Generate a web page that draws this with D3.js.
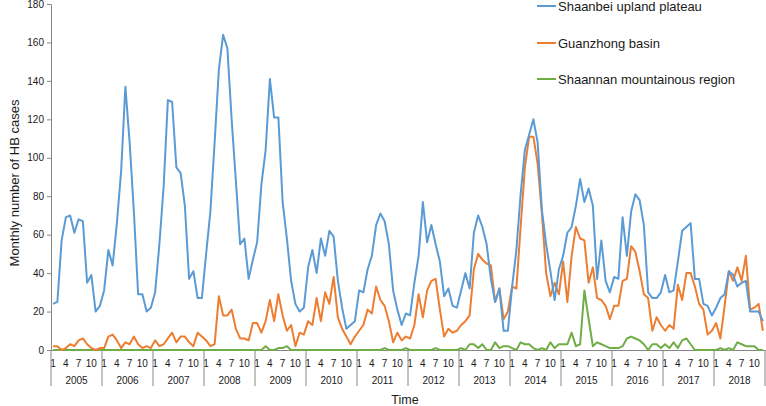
<!DOCTYPE html>
<html>
<head>
<meta charset="utf-8">
<script src="https://cdn.jsdelivr.net/npm/d3@7"></script>
<style>
  body { margin: 0; background: #fff; }
  svg { display: block; font-family: "Liberation Sans", Arial, sans-serif; }
</style>
</head>
<body>
<div id="chart"></div>
<script>
// years on the category axis, month labels shown under each year
const years = [2005, 2006, 2007, 2008, 2009, 2010, 2011, 2012, 2013, 2014, 2015, 2016, 2017, 2018];
const monthLabels = [1, 4, 7, 10];
const yTicks = [0, 20, 40, 60, 80, 100, 120, 140, 160, 180];
const seriesNames = ["Shaanbei upland plateau", "Guanzhong basin", "Shaannan mountainous region"];

// monthly cases, Jan 2005 .. Dec 2018 (one row per year)
const shaanbei = [
  24, 25, 57, 69, 70, 61, 68, 67, 35, 39, 20, 23,
  31, 52, 44, 66, 93, 137, 108, 72, 29, 29, 20, 22,
  30, 55, 85, 130, 129, 95, 92, 75, 37, 41, 27, 27,
  50, 72, 108, 146, 164, 157, 120, 88, 55, 58, 37, 47,
  56, 86, 104, 141, 121, 121, 77, 58, 36, 24, 20, 22,
  43, 52, 40, 58, 49, 62, 59, 36, 22, 11, 13, 15,
  31, 30, 42, 49, 65, 71, 67, 55, 31, 21, 13, 19,
  18, 35, 49, 77, 56, 65, 55, 46, 28, 32, 23, 22,
  31, 40, 32, 61, 70, 64, 55, 37, 25, 32, 10, 10,
  33, 52, 81, 104, 112, 120, 108, 73, 55, 41, 26, 42,
  49, 61, 64, 75, 89, 77, 84, 75, 37, 57, 36, 30,
  38, 37, 69, 49, 72, 81, 78, 65, 30, 27, 27, 30,
  39, 30, 31, 46, 62, 64, 66, 37, 37, 24, 23, 18,
  22, 27, 29, 41, 39, 33, 35, 36, 20, 20, 20, 15
];
const guanzhong = [
  2, 2, 0, 1, 3, 2, 5, 6, 3, 1, 0, 1,
  1, 7, 8, 5, 1, 4, 3, 7, 3, 1, 2, 1,
  5, 2, 3, 6, 9, 4, 7, 7, 4, 2, 9, 7,
  5, 2, 3, 28, 18, 18, 21, 11, 6, 6, 5, 14,
  14, 9, 15, 26, 15, 29, 18, 10, 13, 2, 9, 8,
  15, 13, 27, 15, 30, 24, 38, 17, 11, 7, 3, 7,
  10, 13, 21, 19, 33, 26, 23, 15, 4, 9, 5, 7,
  6, 13, 29, 17, 31, 36, 37, 21, 7, 11, 9, 10,
  13, 15, 18, 42, 50, 47, 45, 44, 25, 32, 16, 20,
  33, 32, 64, 95, 111, 111, 97, 71, 40, 28, 35, 29,
  46, 25, 49, 64, 58, 57, 35, 43, 27, 26, 23, 16,
  23, 23, 36, 37, 54, 51, 41, 29, 27, 10, 17, 13,
  10, 13, 11, 34, 26, 40, 40, 33, 24, 21, 8, 10,
  14, 6, 23, 41, 36, 43, 36, 49, 21, 22, 24, 10
];
const shaannan = [
  0, 0, 0, 0, 0, 0, 0, 0, 0, 0, 0, 0,
  0, 0, 0, 0, 0, 0, 0, 0, 0, 0, 0, 0,
  0, 0, 0, 0, 0, 0, 0, 0, 0, 0, 0, 0,
  0, 0, 0, 0, 0, 0, 0, 0, 0, 0, 0, 0,
  0, 0, 2, 0, 0, 1, 1, 2, 0, 0, 0, 0,
  0, 0, 0, 0, 0, 0, 0, 0, 0, 0, 0, 0,
  0, 0, 0, 0, 0, 0, 1, 0, 0, 0, 0, 1,
  0, 0, 0, 0, 0, 0, 1, 0, 0, 0, 0, 0,
  1, 0, 3, 3, 1, 3, 0, 0, 4, 1, 2, 2,
  1, 0, 4, 3, 3, 1, 0, 1, 0, 4, 1, 3,
  3, 3, 9, 2, 3, 31, 16, 2, 4, 3, 2, 1,
  1, 1, 2, 6, 7, 6, 5, 3, 0, 3, 3, 1,
  3, 1, 4, 1, 5, 6, 3, 0, 0, 0, 0, 0,
  0, 1, 0, 1, 0, 4, 3, 2, 2, 2, 0, 0
];
const colors = ["#5B9BD5", "#ED7D31", "#70AD47"];

const W = 766, H = 406;
const plot = {left: 51, right: 765, top: 4, bottom: 350};
const textColor = "#1a1a1a", axisColor = "#868686";

const svg = d3.select("#chart").append("svg")
    .attr("width", W)
    .attr("height", H);

const months = d3.range(years.length * 12);
const x = d3.scaleBand().domain(months).range([plot.left, plot.right]);
const xYear = d3.scaleBand().domain(years).range([plot.left, plot.right]);
const y = d3.scaleLinear().domain([0, 180]).range([plot.bottom, plot.top]);

// y axis
const yAxis = svg.append("g")
    .attr("transform", "translate(" + plot.left + ",0)")
    .call(d3.axisLeft(y).tickValues(yTicks).tickSize(4).tickPadding(3));
yAxis.select(".domain").attr("stroke", axisColor);
yAxis.selectAll(".tick line").attr("stroke", axisColor);
yAxis.selectAll(".tick text")
    .attr("fill", textColor)
    .style("font-size", "10px");

// month labels
const mAxis = svg.append("g")
    .attr("transform", "translate(0," + plot.bottom + ")")
    .call(d3.axisBottom(x)
        .tickValues(months.filter(i => monthLabels.includes(i % 12 + 1)))
        .tickFormat(i => i % 12 + 1)
        .tickSize(0).tickPadding(9.5));
mAxis.select(".domain").attr("stroke", axisColor);
mAxis.selectAll(".tick text").attr("fill", textColor).style("font-size", "10px");

// year labels
const yrAxis = svg.append("g")
    .attr("transform", "translate(0," + plot.bottom + ")")
    .call(d3.axisBottom(xYear).tickSize(0).tickPadding(26.5));
yrAxis.select(".domain").remove();
yrAxis.selectAll(".tick text").attr("fill", textColor).style("font-size", "10px");

// year separators
svg.append("g")
  .selectAll("line")
  .data(years.concat(["end"]))
  .join("line")
    .attr("x1", d => d === "end" ? plot.right : xYear(d))
    .attr("x2", d => d === "end" ? plot.right : xYear(d))
    .attr("y1", plot.bottom)
    .attr("y2", 386)
    .attr("stroke", axisColor)
    .attr("stroke-width", 1);

// series lines, drawn back to front so the first series is on top
const series = [shaanbei, guanzhong, shaannan];
const line = d3.line()
    .x((d, i) => x(i) + x.bandwidth() / 2)
    .y(d => y(d));

series.slice().reverse().forEach((s, j) => {
  const idx = series.length - 1 - j;
  svg.append("path")
      .datum(s)
      .attr("fill", "none")
      .attr("stroke", colors[idx])
      .attr("stroke-width", 2)
      .attr("stroke-linejoin", "round")
      .attr("d", line);
});

// axis titles
svg.append("text")
    .attr("transform", "translate(14,183) rotate(-90)")
    .attr("text-anchor", "middle")
    .attr("dy", "0.35em")
    .attr("fill", textColor)
    .style("font-size", "13px")
    .text("Monthly number of HB cases");

svg.append("text")
    .attr("x", 405)
    .attr("y", 404)
    .attr("text-anchor", "middle")
    .attr("fill", textColor)
    .style("font-size", "12.5px")
    .text("Time");

// legend
const legendY = [6, 43, 79];
const legend = svg.append("g")
  .selectAll("g")
  .data(seriesNames)
  .join("g")
    .attr("transform", (d, i) => "translate(537," + legendY[i] + ")");
legend.append("line")
    .attr("x1", 0).attr("x2", 19)
    .attr("stroke", (d, i) => colors[i])
    .attr("stroke-width", 2);
legend.append("text")
    .attr("x", 21)
    .attr("dy", "0.35em")
    .attr("fill", textColor)
    .style("font-size", "13px")
    .text(d => d);
</script>
</body>
</html>
